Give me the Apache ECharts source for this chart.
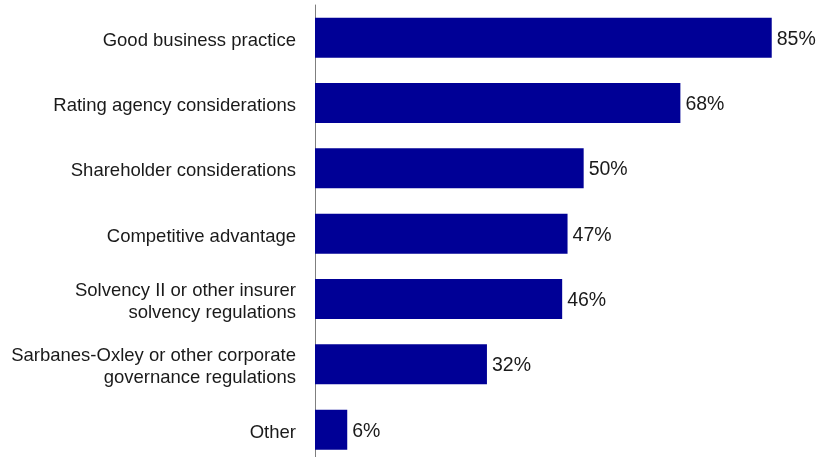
<!DOCTYPE html>
<html>
<head>
<meta charset="utf-8">
<script src="https://cdn.jsdelivr.net/npm/echarts@6/dist/echarts.min.js"></script>
<style>
  html, body { margin: 0; padding: 0; background: #fff; overflow: hidden; }
  #chart { width: 817px; height: 470px; }
</style>
</head>
<body>
<div id="chart"></div>
<script>
// Reasons cited, top to bottom
const categories = [
  'Good business practice',
  'Rating agency considerations',
  'Shareholder considerations',
  'Competitive advantage',
  'Solvency II or other insurer\nsolvency regulations',
  'Sarbanes-Oxley or other corporate\ngovernance regulations',
  'Other'
];
// Share of respondents (%)
const values = [85, 68, 50, 47, 46, 32, 6];

const chart = echarts.init(document.getElementById('chart'));
chart.setOption({
  animation: false,
  // the plot runs slightly past the bottom edge of the visible page
  grid: { left: 315, top: 5, width: 483.6, height: 457.3, containLabel: false },
  xAxis: {
    type: 'value',
    min: 0,
    max: 90,
    show: false
  },
  yAxis: {
    type: 'category',
    data: categories.slice().reverse(),
    axisLine: { show: true, lineStyle: { color: '#7f7f7f', width: 1 } },
    axisTick: { show: false },
    axisLabel: {
      margin: 19,
      formatter: (v) => '{t|' + v + '}',
      rich: {
        t: {
          color: '#1a1a1a',
          fontFamily: 'Liberation Sans, Arial, sans-serif',
          fontSize: 18.5,
          lineHeight: 22
        }
      },
      padding: [6, 0, 0, 0]
    }
  },
  series: [{
    type: 'bar',
    data: values.slice().reverse(),
    barWidth: 40,
    itemStyle: { color: '#000096' },
    label: {
      show: true,
      position: 'right',
      distance: 5,
      offset: [0, 1.5],
      formatter: '{c}%',
      color: '#1a1a1a',
      fontFamily: 'Liberation Sans, Arial, sans-serif',
      fontSize: 19.5
    }
  }]
});
</script>
</body>
</html>
